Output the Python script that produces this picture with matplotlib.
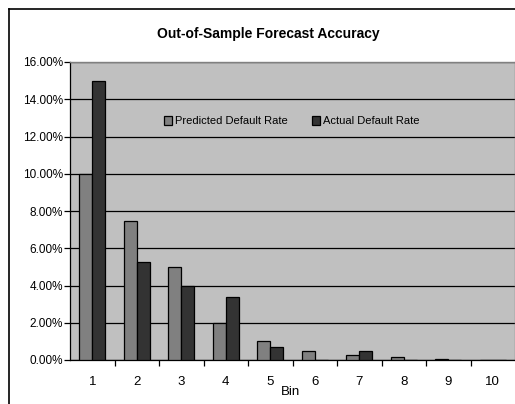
import matplotlib
matplotlib.use("Agg")
import matplotlib.pyplot as plt
from matplotlib.lines import Line2D
from matplotlib.ticker import FixedLocator, FuncFormatter
import numpy as np

bins = ["1", "2", "3", "4", "5", "6", "7", "8", "9", "10"]
predicted = [10.0, 7.48, 5.0, 2.0, 1.0, 0.48, 0.25, 0.18, 0.08, 0.0]
actual = [15.0, 5.24, 4.0, 3.4, 0.7, 0.0, 0.48, 0.0, 0.0, 0.0]
series_names = ["Predicted Default Rate", "Actual Default Rate"]
yticks = [0, 2, 4, 6, 8, 10, 12, 14, 16]

plt.rcParams['font.family'] = ['Liberation Sans', 'DejaVu Sans']

W, H = 515, 404
fig = plt.figure(figsize=(W / 100, H / 100), dpi=100)
fig.patch.set_facecolor("white")

# outer chart border (cropped at right/bottom)
fig.add_artist(Line2D([8.5 / W, 8.5 / W], [0, 1 - 8.5 / H], color="black", lw=1.2, transform=fig.transFigure))
fig.add_artist(Line2D([8.5 / W, 1], [1 - 8.5 / H, 1 - 8.5 / H], color="black", lw=1.2, transform=fig.transFigure))

ax = fig.add_axes([70 / W, 1 - 360 / H, (W - 70) / W, (360 - 62) / H])
ax.set_facecolor("#C0C0C0")

x = np.arange(len(bins))
bw = 0.292
ax.bar(x - bw / 2, predicted, width=bw, color="#808080", edgecolor="black", linewidth=0.9,
       label=series_names[0], zorder=3)
ax.bar(x + bw / 2, actual, width=bw, color="#333333", edgecolor="black", linewidth=0.9,
       label=series_names[1], zorder=3)

ax.set_xlim(-0.5, len(bins) - 0.5)
ax.set_ylim(0, 16)
ax.set_yticks(yticks)
ax.yaxis.set_major_formatter(FuncFormatter(lambda v, p: f"{v:.2f}%"))
ax.grid(axis="y", color="black", linewidth=0.9, zorder=1)
ax.set_axisbelow(True)

ax.set_xticks(x)
ax.set_xticklabels(bins)
ax.xaxis.set_minor_locator(FixedLocator(np.arange(0.5, len(bins) - 0.5, 1.0)))
ax.tick_params(axis="x", which="major", length=0, pad=11.5, labelsize=9.5)
ax.tick_params(axis="x", which="minor", length=4, width=0.9, direction="out")
ax.tick_params(axis="y", length=4, width=0.9, direction="out", pad=1, labelsize=8.5)

for s in ["top", "right"]:
    ax.spines[s].set_color("#808080")
    ax.spines[s].set_linewidth(1.0)
ax.spines["left"].set_color("black")
ax.spines["bottom"].set_color("black")
ax.spines["left"].set_linewidth(0.9)
ax.spines["bottom"].set_linewidth(0.9)

ax.set_xlabel("Bin", fontsize=9.5)
ax.xaxis.set_label_coords((290 - 70) / (W - 70), -(386 - 360) / (360 - 62))

fig.text(268 / W, 1 - 34 / H, "Out-of-Sample Forecast Accuracy", ha="center", va="center",
         fontsize=10, fontweight="bold")

leg = ax.legend(loc="center", bbox_to_anchor=((292 - 70) / (W - 70), (360 - 121) / (360 - 62)),
                ncol=2, frameon=False, fontsize=8, handlelength=0.7, handleheight=0.9,
                handletextpad=0.3, columnspacing=2.2, borderpad=0)

fig.savefig("out.png", dpi=100, facecolor="white")
